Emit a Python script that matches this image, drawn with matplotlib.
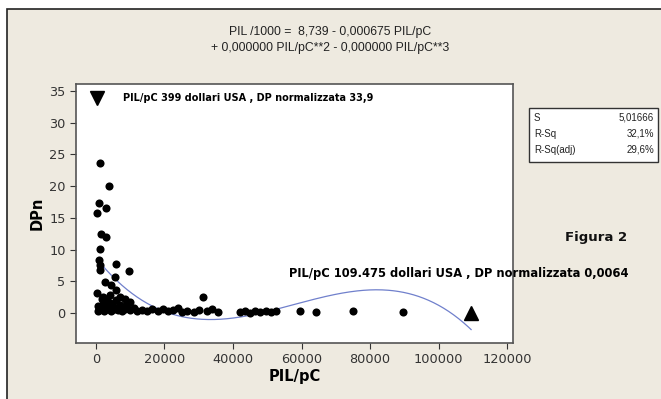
import numpy as np
import matplotlib
matplotlib.use("Agg")
import matplotlib.pyplot as plt
from matplotlib.patches import Rectangle

# ---- data ----
pil_pc = [1200, 3800, 900, 2900, 300, 1500, 2900, 1200, 900, 1100, 6000, 9600, 1300,
          5700, 2600, 4500, 5900, 300, 2200, 4000, 7000, 8500, 10000, 31200,
          500, 1000, 1500, 2000, 2500, 3000, 3500, 4000, 4500, 5000, 5500, 6000, 6500,
          7000, 7500, 8000, 8500, 9000, 10000, 11000, 12000, 1800, 3200, 700,
          13500, 15000, 16500, 18000, 19500, 21000, 22500, 24000, 25000, 26500, 28500,
          30000, 32500, 34000, 35500,
          42000, 43500, 45000, 46500, 48000, 49500, 51000, 52500,
          59700, 64300, 75100, 89700]
dpn = [23.6, 20.1, 17.3, 16.6, 15.8, 12.5, 12.0, 10.1, 8.3, 7.6, 7.7, 6.7, 6.8,
       5.7, 4.9, 4.5, 3.7, 3.2, 2.6, 2.8, 2.5, 2.3, 1.8, 2.6,
       1.2, 0.5, 0.8, 1.5, 0.3, 1.0, 0.6, 1.6, 0.4, 1.1, 0.7, 2.0, 0.5,
       1.3, 0.4, 0.9, 0.6, 1.4, 0.5, 0.8, 0.3, 2.2, 2.0, 0.3,
       0.5, 0.3, 0.6, 0.4, 0.7, 0.3, 0.5, 0.8, 0.2, 0.4, 0.2,
       0.5, 0.3, 0.6, 0.2,
       0.2, 0.4, 0.1, 0.3, 0.2, 0.4, 0.2, 0.3,
       0.3, 0.2, 0.4, 0.2]
min_point = (399, 33.9)
max_point = (109475, 0.0064)
# cubic regression coefficients (constant, x, x^2, x^3)
coef = [8.739, -0.000675, 1.422e-8, -8.22e-14]
stats_labels = ["S", "R-Sq", "R-Sq(adj)"]
stats_values = ["5,01666", "32,1%", "29,6%"]
x_ticks = [0, 20000, 40000, 60000, 80000, 100000, 120000]
y_ticks = [0, 5, 10, 15, 20, 25, 30, 35]

# ---- figure ----
W, H = 661, 399
fig = plt.figure(figsize=(W / 100, H / 100), dpi=100)
fig.patch.set_facecolor("white")
bg = "#EEEAE0"
fig.patches.append(Rectangle((7 / W, -0.05), 1.1, 1.05 - 9 / H, transform=fig.transFigure,
                             facecolor=bg, edgecolor="#222222", linewidth=1.2, zorder=-10))

ax = fig.add_axes([76 / W, 1 - 343 / H, (513 - 76) / W, (343 - 84) / H])
ax.set_facecolor("white")
ax.set_xlim(-5800, 121700)
ax.set_ylim(-4.7, 36.1)

xs = np.linspace(min(pil_pc + [min_point[0]]), max_point[0], 300)
ys = np.polyval(coef[::-1], xs)
ax.plot(xs, ys, color="#7080CC", linewidth=0.9, zorder=2)

ax.scatter(pil_pc, dpn, s=34, color="black", zorder=3, linewidths=0)
ax.plot([min_point[0]], [min_point[1]], marker="v", markersize=10, color="black",
        linestyle="none", zorder=4)
ax.plot([max_point[0]], [max_point[1]], marker="^", markersize=10, color="black",
        linestyle="none", zorder=4)

ax.text(8000, 33.9, "PIL/pC 399 dollari USA , DP normalizzata 33,9",
        fontsize=7.0, fontweight="bold", va="center", ha="left", family="DejaVu Sans")
ax.text(56300, 6.3, "PIL/pC 109.475 dollari USA , DP normalizzata 0,0064",
        fontsize=8.3, fontweight="bold", va="center", ha="left", family="DejaVu Sans",
        clip_on=False)

ax.set_xticks(x_ticks)
ax.set_xticklabels([str(v) for v in x_ticks])
ax.set_yticks(y_ticks)
ax.tick_params(direction="out", length=4, width=0.8, labelsize=9.3,
               colors="#333333", labelcolor="#333333")
for s in ax.spines.values():
    s.set_color("#555555")
    s.set_linewidth(1.2)

ax.set_xlabel("PIL/pC", fontsize=10.5, fontweight="bold", labelpad=2)
ax.set_ylabel("DPn", fontsize=10.5, fontweight="bold", labelpad=3)

fig.text(330 / W, 1 - 32 / H, "PIL /1000 =  8,739 - 0,000675 PIL/pC", ha="center",
         va="center", fontsize=8.8, family="Liberation Sans", color="#222222")
fig.text(330 / W, 1 - 48 / H, "+ 0,000000 PIL/pC**2 - 0,000000 PIL/pC**3", ha="center",
         va="center", fontsize=8.8, family="Liberation Sans", color="#222222")

fig.text(596 / W, 1 - 237 / H, "Figura 2", ha="center", va="center", fontsize=9.5,
         fontweight="bold", color="#111111")

# stats box
bx0, by0, bx1, by1 = 529, 108, 658, 162
fig.patches.append(Rectangle((bx0 / W, 1 - by1 / H), (bx1 - bx0) / W, (by1 - by0) / H,
                             transform=fig.transFigure, facecolor="white",
                             edgecolor="#333333", linewidth=1.0, zorder=5))
for i, (lab, val) in enumerate(zip(stats_labels, stats_values)):
    yy = 1 - (118 + i * 16) / H
    fig.text((bx0 + 5) / W, yy, lab, ha="left", va="center", fontsize=7,
             family="Liberation Sans", color="#222222", zorder=6)
    fig.text((bx1 - 4) / W, yy, val, ha="right", va="center", fontsize=7,
             family="Liberation Sans", color="#222222", zorder=6)

fig.savefig("out.png", dpi=100, facecolor=fig.get_facecolor())
